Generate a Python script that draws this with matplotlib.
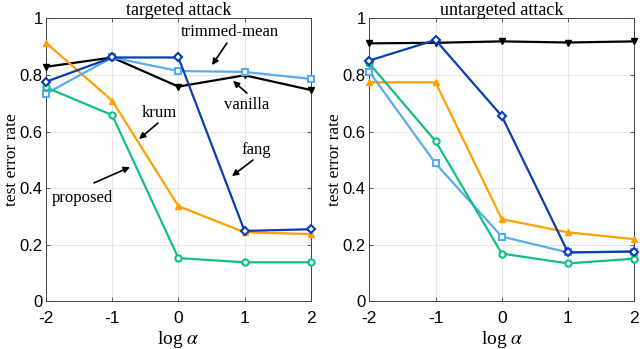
import matplotlib
matplotlib.use("Agg")
import matplotlib.pyplot as plt

log_alpha = [-2, -1, 0, 1, 2]
x_ticks = [-2, -1, 0, 1, 2]
y_ticks = [0, 0.2, 0.4, 0.6, 0.8, 1]
y_tick_labels = ["0", "0.2", "0.4", "0.6", "0.8", "1"]

# targeted attack
tgt_vanilla = [0.829, 0.862, 0.759, 0.799, 0.747]
tgt_krum = [0.914, 0.709, 0.336, 0.243, 0.237]
tgt_trimmed = [0.734, 0.862, 0.814, 0.811, 0.786]
tgt_proposed = [0.756, 0.658, 0.152, 0.137, 0.137]
tgt_fang = [0.776, 0.862, 0.862, 0.248, 0.254]

# untargeted attack
unt_vanilla = [0.912, 0.914, 0.919, 0.915, 0.919]
unt_krum = [0.774, 0.774, 0.290, 0.243, 0.219]
unt_trimmed = [0.812, 0.487, 0.228, 0.172, 0.175]
unt_proposed = [0.841, 0.566, 0.168, 0.133, 0.150]
unt_fang = [0.851, 0.924, 0.655, 0.172, 0.175]

titles = ["targeted attack", "untargeted attack"]

C_BLACK = "#000000"
C_ORANGE = "#FFA000"
C_LBLUE = "#5AAAF0"
C_GREEN = "#10C080"
C_DBLUE = "#0A3CB4"

serif = ["Liberation Serif", "DejaVu Serif"]
sans = ["Liberation Sans", "DejaVu Sans"]
plt.rcParams["mathtext.fontset"] = "stix"

fig = plt.figure(figsize=(6.4, 3.49), dpi=100)
ax1 = fig.add_axes([0.0719, 0.1375, 0.4136, 0.8095])
ax2 = fig.add_axes([0.577, 0.1375, 0.414, 0.8095])

data = [
    (tgt_vanilla, tgt_krum, tgt_trimmed, tgt_proposed, tgt_fang),
    (unt_vanilla, unt_krum, unt_trimmed, unt_proposed, unt_fang),
]

lw = 1.6
ms = 5
for ax, (van, kr, tr, pr, fa), title in zip([ax1, ax2], data, titles):
    ax.plot(log_alpha, van, color=C_BLACK, lw=lw, marker="v", ms=ms, mfc=C_BLACK, zorder=3, clip_on=False)
    ax.plot(log_alpha, kr, color=C_ORANGE, lw=lw, marker="^", ms=ms, mfc=C_ORANGE, zorder=3, clip_on=False)
    ax.plot(log_alpha, tr, color=C_LBLUE, lw=lw, marker="s", ms=4.5, mfc="white", mew=1.5, zorder=3, clip_on=False)
    ax.plot(log_alpha, pr, color=C_GREEN, lw=lw, marker="o", ms=4.5, mfc="white", mew=1.5, zorder=3, clip_on=False)
    ax.plot(log_alpha, fa, color=C_DBLUE, lw=lw, marker="D", ms=4.5, mfc="white", mew=1.5, zorder=3, clip_on=False)
    ax.set_xlim(-2, 2)
    ax.set_ylim(0, 1)
    ax.set_xticks(x_ticks)
    ax.set_xticklabels([str(t) for t in x_ticks], fontfamily=sans, fontsize=12.5)
    ax.set_yticks(y_ticks)
    ax.set_yticklabels(y_tick_labels, fontfamily=sans, fontsize=12)
    ax.tick_params(direction="in", length=3, width=0.6, color="#404040", top=True, right=True)
    ax.tick_params(axis="x", pad=7)
    ax.tick_params(axis="y", pad=2.5)
    ax.grid(True, color="#e6e6e6", lw=0.8, zorder=0)
    for s in ax.spines.values():
        s.set_color("#404040")
        s.set_linewidth(0.7)
    ax.set_title(title, fontfamily=serif, fontsize=13, pad=2.5)
    ax.set_xlabel(r"log $\alpha$", fontfamily=serif, fontsize=14)
    ax.xaxis.set_label_coords(0.5, -0.099)
    ax.set_ylabel("test error rate", fontfamily=serif, fontsize=12.5)
    ax.yaxis.set_label_coords(-0.1, 0.5)

arrow = dict(arrowstyle="-|>", color="black", lw=1.2, mutation_scale=9, shrinkA=0, shrinkB=0)
fs = 12
ax1.annotate("", xy=(0.508, 0.835), xytext=(0.734, 0.913), arrowprops=arrow)
ax1.text(0.779, 0.952, "trimmed-mean", ha="center", va="center", fontfamily=serif, fontsize=fs)
ax1.annotate("", xy=(0.825, 0.779), xytext=(1.036, 0.736), arrowprops=arrow)
ax1.text(1.036, 0.694, "vanilla", ha="center", va="center", fontfamily=serif, fontsize=fs)
ax1.annotate("", xy=(-0.595, 0.573), xytext=(-0.308, 0.630), arrowprops=arrow)
ax1.text(-0.293, 0.665, "krum", ha="center", va="center", fontfamily=serif, fontsize=fs)
ax1.annotate("", xy=(0.810, 0.442), xytext=(1.127, 0.499), arrowprops=arrow)
ax1.text(1.172, 0.535, "fang", ha="center", va="center", fontfamily=serif, fontsize=fs)
ax1.annotate("", xy=(-0.731, 0.474), xytext=(-1.275, 0.418), arrowprops=arrow)
ax1.text(-1.456, 0.365, "proposed", ha="center", va="center", fontfamily=serif, fontsize=fs)

fig.savefig("out.png", dpi=100)
